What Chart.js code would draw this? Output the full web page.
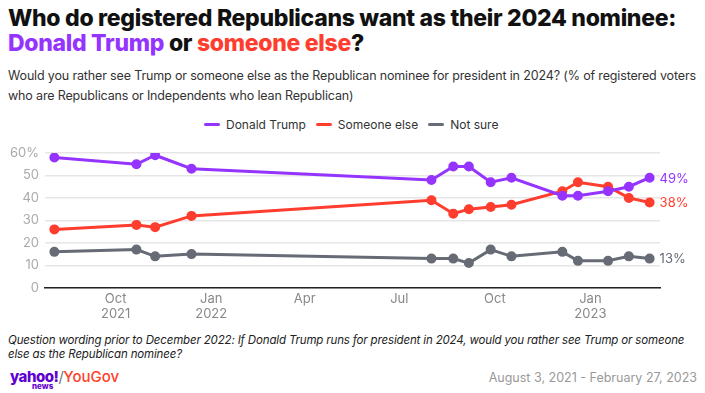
<!DOCTYPE html>
<html>
<head>
<meta charset="utf-8">
<script src="https://cdn.jsdelivr.net/npm/chart.js@4.4.1/dist/chart.umd.min.js"></script>
<style>
  body { margin: 0; background: #fff; }
  #wrap { position: relative; width: 705px; height: 393px; overflow: hidden; font-family: Inter, "Noto Sans", sans-serif; }
  #title { position: absolute; left: 8px; top: 6px; font-size: 23px; font-weight: 800; line-height: 25px; color: #111; letter-spacing: -0.3px; }
  #sub { position: absolute; left: 8px; top: 66px; width: 697px; font-size: 12.5px; line-height: 20px; color: #333; letter-spacing: -0.15px; }
  #legend { position: absolute; left: 204px; top: 117px; display: flex; align-items: center; font-size: 12px; color: #333; white-space: nowrap; }
  #legend .mk { display: inline-block; width: 16px; height: 3px; border-radius: 2px; margin-right: 6px; }
  #legend .it { display: flex; align-items: center; margin-right: 10px; }
  #box { position: absolute; left: 0; top: 112px; width: 705px; height: 213px; }
  #note { position: absolute; left: 8px; top: 333px; width: 697px; font-size: 11.5px; line-height: 14px; color: #222; font-style: italic; letter-spacing: -0.15px; }
  #logo { position: absolute; left: 10px; top: 367px; font-size: 15px; font-weight: 800; color: #5f01d1; letter-spacing: -0.5px; }
  #logo .news { position: absolute; left: 22px; top: 14px; font-size: 8px; font-weight: 800; letter-spacing: 0; }
  #logo .yg { color: #ff412c; font-weight: 500; letter-spacing: 0; }
  #logo .sl { color: #777; font-weight: 400; }
  #dates { position: absolute; right: 8px; top: 370px; font-size: 12.5px; color: #999; }
</style>
</head>
<body>
<div id="wrap">
  <div id="title">Who do registered Republicans want as their 2024 nominee:<br><span style="color:#9534ff">Donald Trump</span> or <span style="color:#ff3d2e">someone else</span>?</div>
  <div id="sub">Would you rather see Trump or someone else as the Republican nominee for president in 2024? (% of registered voters who are Republicans or Independents who lean Republican)</div>
  <div id="legend"></div>
  <div id="box"><canvas id="chart"></canvas></div>
  <div id="note">Question wording prior to December 2022: If Donald Trump runs for president in 2024, would you rather see Trump or someone else as the Republican nominee?</div>
  <div id="logo">yahoo!<span class="news">news</span><span class="sl">/</span><span class="yg">YouGov</span></div>
  <div id="dates">August 3, 2021 - February 27, 2023</div>
</div>
<script>
// ------- Data -------
let pollDates = ["2021-08-03", "2021-10-21", "2021-11-08", "2021-12-13",
  "2022-08-01", "2022-08-22", "2022-09-06", "2022-09-27", "2022-10-17",
  "2022-12-05", "2022-12-20", "2023-01-18", "2023-02-07", "2023-02-27"];
let trump = [58, 55, 59, 53, 48, 54, 54, 47, 49, 41, 41, 43, 45, 49];
let someoneElse = [26, 28, 27, 32, 39, 33, 35, 36, 37, 43, 47, 45, 40, 38];
let notSure = [16, 17, 14, 15, 13, 13, 11, 17, 14, 16, 12, 12, 14, 13];

let tickDates = ["2021-10-01", "2022-01-01", "2022-04-01", "2022-07-01", "2022-10-01", "2023-01-01"];
let tickLabels = [["Oct", "2021"], ["Jan", "2022"], "Apr", "Jul", "Oct", ["Jan", "2023"]];
let xRange = ["2021-07-25", "2023-03-09"];

let colors = { trump: "#9534ff", other: "#ff3d2e", unsure: "#676b75" };

// day number for a date string
function day(s) {
  return Date.parse(s + "T00:00:00Z") / 86400000;
}
function pts(values) {
  return values.map((v, i) => ({ x: day(pollDates[i]), y: v }));
}

let tickDays = tickDates.map(day);

// ------- End labels -------
let endLabels = {
  id: "endLabels",
  afterDatasetsDraw(chart) {
    let ctx = chart.ctx;
    ctx.save();
    ctx.font = "13px Inter, sans-serif";
    ctx.textBaseline = "middle";
    chart.data.datasets.forEach((ds, i) => {
      let meta = chart.getDatasetMeta(i);
      let last = meta.data[meta.data.length - 1];
      ctx.fillStyle = ds.borderColor;
      ctx.fillText(ds.data[ds.data.length - 1].y + "%", last.x + 10, last.y + 1);
    });
    ctx.restore();
  },
};

function line(label, values, color) {
  return {
    label: label,
    data: pts(values),
    borderColor: color,
    backgroundColor: color,
    borderWidth: 3,
    pointRadius: 3.5,
    pointHoverRadius: 4,
    tension: 0,
  };
}

let chart = new Chart("chart", {
  type: "line",
  data: {
    datasets: [
      line("Donald Trump", trump, colors.trump),
      line("Someone else", someoneElse, colors.other),
      line("Not sure", notSure, colors.unsure),
    ],
  },
  plugins: [endLabels],
  options: {
    responsive: true,
    maintainAspectRatio: false,
    animation: false,
    layout: { padding: { left: 4, right: 45, top: 41, bottom: 0 } },
    plugins: {
      tooltip: { enabled: false },
      legend: { display: false },
    },
    scales: {
      x: {
        type: "linear",
        min: day(xRange[0]),
        max: day(xRange[1]),
        afterBuildTicks(axis) {
          axis.ticks = tickDays.map((v) => ({ value: v }));
        },
        ticks: {
          autoSkip: false,
          maxRotation: 0,
          padding: 3,
          color: "#888",
          font: { family: "Inter", size: 13 },
          callback(v) {
            return tickLabels[tickDays.indexOf(v)];
          },
        },
        grid: { display: false, drawTicks: false },
        border: { display: true, color: "#222", width: 1.5 },
      },
      y: {
        min: 0,
        max: 60,
        ticks: {
          stepSize: 10,
          color: "#aaa",
          padding: 6,
          font: { family: "Inter", size: 13 },
          callback(v) {
            return v === 60 ? v + "%" : v;
          },
        },
        grid: { color: "#e6e6e6", lineWidth: 1.5, drawTicks: false },
        border: { display: false },
      },
    },
  },
});

// ------- Legend -------
let legendBox = document.getElementById("legend");
chart.data.datasets.forEach((ds) => {
  legendBox.innerHTML += `<span class="it"><span class="mk" style="background:${ds.borderColor}"></span>${ds.label}</span>`;
});
</script>
</body>
</html>
